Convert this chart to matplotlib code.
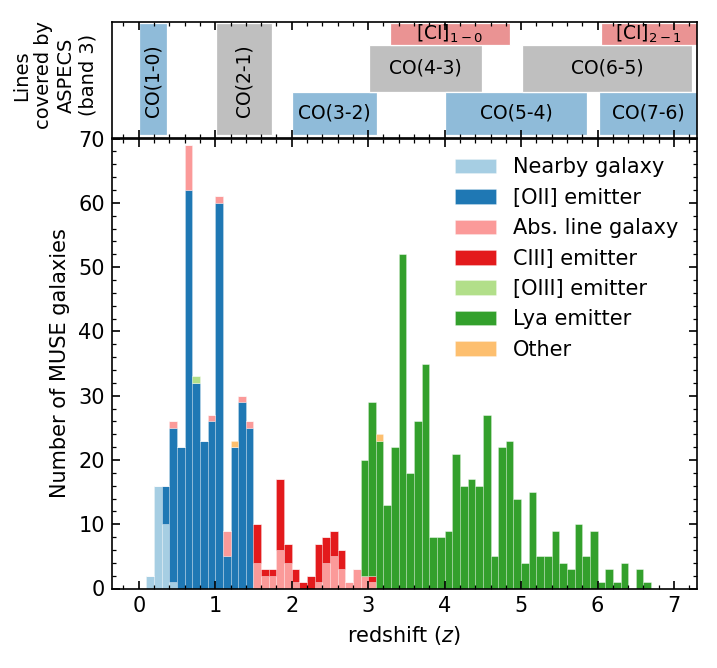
import numpy as np
import matplotlib.pyplot as plt
from matplotlib.ticker import MultipleLocator

plt.rcParams['font.family'] = 'DejaVu Sans'
plt.rcParams['font.size'] = 10

# ---- histogram data (counts per 0.1 redshift bin, each run starts at z_start)
bin_width = 0.1
n_bins = 67

nearby_start, nearby = 0.1, [2, 16, 10, 1]
oii_start, oii = 0.3, [6, 24, 22, 62, 32, 23, 26, 60, 5, 22, 29, 25]
absl_start, absl = 0.4, [1, 0, 7, 0, 0, 1, 1, 4, 0, 1, 1, 4, 2, 2, 6, 4, 1, 0,
                         0, 1, 4, 5, 3, 1, 3, 2, 1]
ciii_start, ciii = 1.5, [6, 1, 1, 11, 3, 2, 1, 2, 6, 4, 4, 3, 0, 0, 0, 1]
oiii_start, oiii = 0.7, [1]
lya_start, lya = 2.9, [18, 27, 23, 13, 22, 52, 18, 26, 35, 8,
                       8, 9, 21, 16, 17, 16, 27, 5, 22, 23,
                       14, 4, 15, 5, 5, 9, 4, 3, 10, 5,
                       9, 1, 3, 1, 4, 0, 3, 1]
other_start, other = 1.2, [1, 0, 0, 0, 0, 0, 0, 0, 0, 0,
                           0, 0, 0, 0, 0, 0, 0, 0, 0, 1]

labels = ['Nearby galaxy', '[OII] emitter', 'Abs. line galaxy', 'CIII] emitter',
          '[OIII] emitter', 'Lya emitter', 'Other']
paired = plt.cm.Paired.colors
colors = [paired[0], paired[1], paired[4], paired[5], paired[2], paired[3], paired[6]]

# ---- lines covered by ASPECS band 3
line_names = ['CO(1-0)', 'CO(2-1)', 'CO(3-2)', 'CO(4-3)', 'CO(5-4)', 'CO(6-5)',
              'CO(7-6)', r'[CI]$_{1-0}$', r'[CI]$_{2-1}$']
line_zmin = [0.0, 1.005, 2.007, 3.009, 4.011, 5.013, 6.014, 3.281, 6.039]
line_zmax = [0.373, 1.745, 3.117, 4.489, 5.861, 7.233, 8.604, 4.859, 8.637]
line_row = ['full', 'full', 0, 1, 0, 1, 0, 2, 2]
line_col = ['#8fbbd9', '#bfbfbf', '#8fbbd9', '#bfbfbf', '#8fbbd9', '#bfbfbf',
            '#8fbbd9', '#ea9393', '#ea9393']


def full(start, counts):
    arr = np.zeros(n_bins)
    i0 = int(round(start / bin_width))
    arr[i0:i0 + len(counts)] = counts
    return arr


series = [full(nearby_start, nearby), full(oii_start, oii), full(absl_start, absl),
          full(ciii_start, ciii), full(oiii_start, oiii), full(lya_start, lya),
          full(other_start, other)]
z_lo = np.arange(n_bins) * bin_width

xlim = (-0.35, 7.3)

fig = plt.figure(figsize=(717 / 150, 668 / 150), dpi=150)
ax = fig.add_axes([112 / 717, 1 - 588.5 / 668, 585 / 717, 450 / 668])
ax_top = fig.add_axes([112 / 717, 1 - 138 / 668, 585 / 717, 116 / 668], sharex=ax)

bottom = np.zeros(n_bins)
for vals, lab, col in zip(series, labels, colors):
    ax.bar(z_lo, vals, width=bin_width, bottom=bottom, align='edge', color=col,
           edgecolor=(1, 1, 1, 0.3), linewidth=0.4, label=lab)
    bottom += vals

ax.set_xlim(*xlim)
ax.set_ylim(0, 70)
ax.set_xlabel('redshift ($z$)')
ax.set_ylabel('Number of MUSE galaxies')
ax.xaxis.set_major_locator(MultipleLocator(1))
ax.xaxis.set_minor_locator(MultipleLocator(0.2))
ax.yaxis.set_major_locator(MultipleLocator(10))
ax.yaxis.set_minor_locator(MultipleLocator(2))
ax.tick_params(which='both', direction='in', top=True, right=True)
ax.tick_params(which='major', length=4)
ax.tick_params(which='minor', length=2)
ax.legend(loc='upper right', frameon=False)

# top panel
row_span = {'full': (0.03, 0.99), 0: (0.03, 0.40), 1: (0.40, 0.80), 2: (0.80, 0.99)}
for name, z0, z1, row, col in zip(line_names, line_zmin, line_zmax, line_row, line_col):
    y0, y1 = row_span[row]
    ax_top.axvspan(z0, z1, ymin=y0, ymax=y1, facecolor=col, edgecolor='white',
                   linewidth=0.6)
    xc = 0.5 * (z0 + min(z1, xlim[1]))
    yc = 0.5 * (y0 + y1)
    if row == 'full':
        ax_top.text(xc, yc - 0.02, name, rotation=90, ha='center', va='center',
                    fontsize=9, transform=ax_top.get_xaxis_transform())
    else:
        ax_top.text(xc, yc, name, ha='center', va='center', fontsize=9,
                    transform=ax_top.get_xaxis_transform())

ax_top.set_ylim(0, 1)
ax_top.set_yticks([])
ax_top.tick_params(which='both', direction='in', top=True, labelbottom=False)
ax_top.tick_params(which='major', length=4)
ax_top.tick_params(which='minor', length=2)
ax_top.set_ylabel('Lines\ncovered by\nASPECS\n(band 3)', fontsize=9.3)
ax_top.yaxis.set_label_coords(-0.025, 0.54)

fig.savefig('out.png', dpi=150)
